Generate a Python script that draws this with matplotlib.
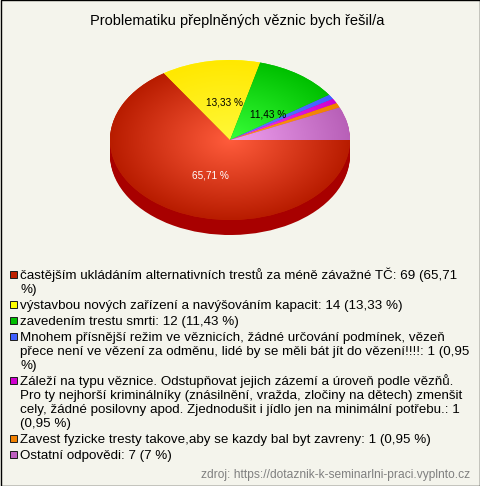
import numpy as np
import matplotlib
matplotlib.use("Agg")
import matplotlib.pyplot as plt
from matplotlib.colors import LinearSegmentedColormap
from matplotlib.patches import Rectangle

plt.rcParams['font.family'] = ['Liberation Sans', 'DejaVu Sans']

W, H = 480, 486
BG = '#f4f4ec'

title = 'Problematiku přeplněných věznic bych řešil/a'
values = [69, 14, 12, 1, 1, 1, 7]
shown_pct = ['65,71 %', '13,33 %', '11,43 %']
label_colors = ['white', 'black', 'black']
label_xy = [(210, 178), (224, 105), (268, 117)]
swatches = ['#c02000', '#ffff00', '#00c000', '#4060ff', '#d000d0', '#f08000', '#c060c0']
grad_in = ['#ff5c3c', '#fff838', '#38ff38', '#6080ff', '#f040f0', '#ff9820', '#f0a0f0']
grad_out = ['#b81c00', '#ffe800', '#00c000', '#4060ff', '#d000d0', '#f08000', '#b860b8']
legend_lines = [
    (0, 'častějším ukládáním alternativních trestů za méně závažné TČ: 69 (65,71', 279),
    (None, '%)', 293),
    (1, 'výstavbou nových zařízení a navýšováním kapacit: 14 (13,33 %)', 309),
    (2, 'zavedením trestu smrti: 12 (11,43 %)', 325),
    (3, 'Mnohem přísnější režim ve věznicích, žádné určování podmínek, vězeň', 341),
    (None, 'přece není ve vězení za odměnu, lidé by se měli bát jít do vězení!!!!: 1 (0,95', 355),
    (None, '%)', 369),
    (4, 'Záleží na typu věznice. Odstupňovat jejich zázemí a úroveň podle vězňů.', 385),
    (None, 'Pro ty nejhorší kriminálníky (znásilnění, vražda, zločiny na dětech) zmenšit', 399),
    (None, 'cely, žádné posilovny apod. Zjednodušit i jídlo jen na minimální potřebu.: 1', 413),
    (None, '(0,95 %)', 427),
    (5, 'Zavest fyzicke tresty takove,aby se kazdy bal byt zavreny: 1 (0,95 %)', 443),
    (6, 'Ostatní odpovědi: 7 (7 %)', 459),
]
source = 'zdroj: https://dotaznik-k-seminarlni-praci.vyplnto.cz'

fig = plt.figure(figsize=(W / 100, H / 100), dpi=100, facecolor=BG)

bg = fig.add_axes([0, 0, 1, 1], zorder=0)
bg.set_xlim(0, W); bg.set_ylim(H, 0); bg.axis('off')
bg.add_patch(Rectangle((0.5, 0.5), W - 1, H - 1, fc='none', ec='black', lw=1))

cx, cy, rx, ry, depth = 230, 140, 120, 80, 15
ax = fig.add_axes([(cx - rx) / W, 1 - (cy + ry) / H, 2 * rx / W, 2 * ry / H], zorder=1)

for d in np.linspace(depth, 1, depth):
    w, _ = ax.pie(values, colors=['#a80000'] * len(values), startangle=0, counterclock=False,
                  center=(0, -d / ry), radius=1, frame=True, wedgeprops=dict(lw=0))
    for p in w:
        p.set_clip_on(False)

wedges, _ = ax.pie(values, colors=swatches, startangle=0, counterclock=False, radius=1,
                   frame=True, wedgeprops=dict(lw=0))
ax.set_aspect('auto')
ax.axis('off')

yy, xx = np.mgrid[-1:1:300j, -1:1:300j]
rr = np.clip(np.hypot(xx, yy), 0, 1)
for wd, a, b in zip(wedges, grad_in, grad_out):
    cm = LinearSegmentedColormap.from_list('g', [a, b])
    im = ax.imshow(rr, cmap=cm, vmin=0, vmax=1, extent=(-1, 1, -1, 1), aspect='auto',
                   origin='lower', zorder=3, interpolation='bilinear')
    im.set_clip_path(wd)
ax.set_xlim(-1, 1); ax.set_ylim(-1, 1)

ov = fig.add_axes([0, 0, 1, 1], zorder=2)
ov.set_xlim(0, W); ov.set_ylim(H, 0); ov.axis('off'); ov.patch.set_alpha(0)
ov.text(237.5, 25, title, ha='center', va='baseline', fontsize=10.56, color='black')
for s, c, (x, y) in zip(shown_pct, label_colors, label_xy):
    ov.text(x, y, s, ha='center', va='baseline', fontsize=7.2, color=c)
for idx, line, y in legend_lines:
    ov.text(20.5, y, line, ha='left', va='baseline', fontsize=9.6, color='black')
    if idx is not None:
        ov.add_patch(Rectangle((9.5, y - 8.5), 7.5, 7.5, fc=swatches[idx], ec='#202020', lw=0.72))
ov.text(470, 478, source, ha='right', va='baseline', fontsize=8.64, color='#808080')

fig.savefig('out.png', dpi=100, facecolor=BG)
